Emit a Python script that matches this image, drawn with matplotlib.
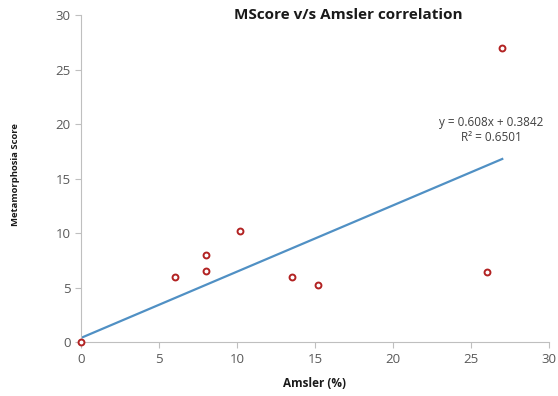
import numpy as np
import matplotlib
matplotlib.use("Agg")
import matplotlib.pyplot as plt

# Data
amsler = [0, 6, 8, 8, 10.2, 13.5, 15.2, 26, 27]
mscore = [0, 6, 8, 6.5, 10.2, 6, 5.2, 6.4, 27]
# trendline coefficients as printed on the chart
slope = 0.608
intercept = 0.3842
r2 = 0.6501
eq_text = "y = %sx + %s\nR\u00b2 = %s" % (slope, intercept, r2)

plt.rcParams['font.family'] = ['Open Sans', 'DejaVu Sans']

fig = plt.figure(figsize=(5.58, 3.96), dpi=100)
ax = fig.add_axes([0.145, 0.136, 0.839, 0.826])

# linear trendline over the data range
xs = np.array([0, max(amsler)])
ax.plot(xs, slope * xs + intercept, color='#5090c4', lw=1.6, zorder=2)

ax.scatter(amsler, mscore, s=18, facecolors='white', edgecolors='#b22222',
           linewidths=1.4, zorder=3, clip_on=False)

ax.set_xlim(0, 30)
ax.set_ylim(0, 30)
ax.set_xticks(range(0, 31, 5))
ax.set_yticks(range(0, 31, 5))
for side in ['top', 'right']:
    ax.spines[side].set_visible(False)
for side in ['left', 'bottom']:
    ax.spines[side].set_color('#bfbfbf')
ax.tick_params(colors='#bfbfbf', labelcolor='#595959', labelsize=9.5,
               length=4, direction='out')

ax.text(26.3, 19.5, eq_text, ha='center', va='center', fontsize=8.5,
        color='#404040', linespacing=1.2)

fig.text(0.625, 0.962, "MScore v/s Amsler correlation", ha='center',
         va='center', fontsize=11, fontweight='bold', color='#1a1a1a')
ax.set_xlabel("Amsler (%)", fontsize=8.5, fontweight='bold', color='#1a1a1a',
              labelpad=8)
fig.text(0.027, 0.558, "Metamorphosia Score", rotation=90, ha='center',
         va='center', fontsize=6.8, fontweight='bold', color='#1a1a1a')

fig.savefig("out.png", dpi=100)
